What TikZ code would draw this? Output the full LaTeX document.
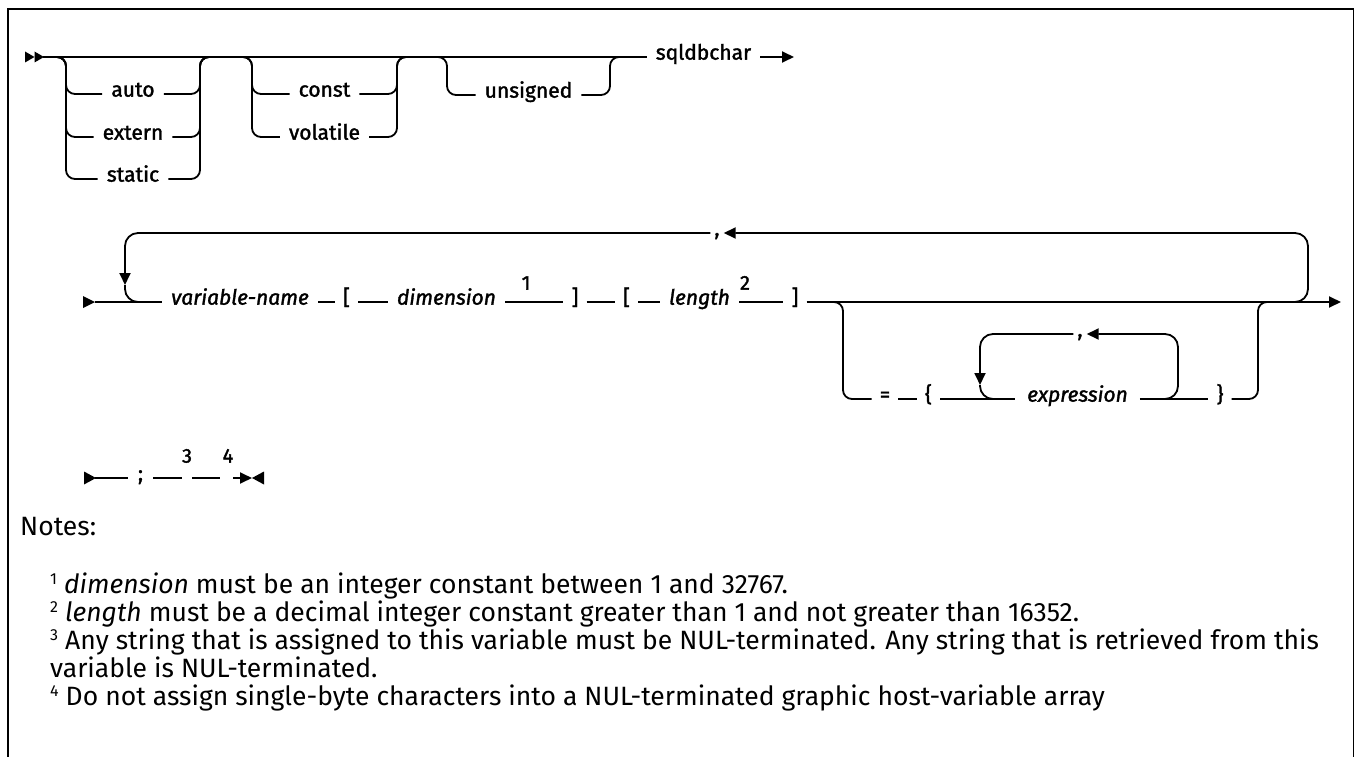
\documentclass[tikz,border=0pt]{standalone}
\usepackage{fontspec}
\setmainfont{Fira Sans}
\newfontfamily\diagfont{Fira Sans}[FakeBold=1.6]
\newcommand{\notesup}[1]{\raisebox{0.62ex}{\fontsize{16}{16}\selectfont #1}}
\usetikzlibrary{arrows.meta}
\begin{document}
\begin{tikzpicture}[x=1pt,y=-1pt,
  rr/.style={line width=1.8pt, line join=round},
  arr/.style={-{Triangle[length=12pt,width=11pt]}},
  lbl/.style={font=\diagfont\fontsize{21}{25}\selectfont, inner xsep=9pt, inner ysep=0pt, anchor=mid},
  ilbl/.style={lbl, font=\diagfont\itshape\fontsize{21}{25}\selectfont},
  punct/.style={lbl, inner xsep=4pt},
  supnum/.style={font=\diagfont\fontsize{20}{22}\selectfont, inner sep=0pt, anchor=mid},
  note/.style={font=\fontsize{26.5}{30}\selectfont, inner sep=0pt, anchor=mid west},
  rc/.style={rounded corners=9pt},
  rcl/.style={rounded corners=13pt}
]
\useasboundingbox (0,0) rectangle (1355,757);
% frame
\draw[line width=2.4pt] (8,757) -- (8,9) -- (1354,9);
\draw[line width=1pt] (1353,9) -- (1353,757);

% ---------- row 1 ----------
\fill (25,51.5) -- (34.5,57) -- (25,62.5) -- cycle;
\fill (34.5,51.5) -- (44,57) -- (34.5,62.5) -- cycle;
\coordinate (s1) at (43,57);
\node[lbl] (sq) at (703.5,57) {sqldbchar};
\coordinate (e1) at (794,57);
\draw[rr] (s1) -- (sq.mid west);
\draw[rr,arr] (sq.mid east) -- (e1);

% group 1
\coordinate (g1l) at (57,57); \coordinate (g1a) at (66,57);
\coordinate (g1b) at (200,57); \coordinate (g1r) at (209,57);
\node[lbl] (auto) at (133,94) {auto};
\node[lbl] (extern) at (133,137) {extern};
\node[lbl] (static) at (133,179) {static};
\foreach \n in {auto,extern,static}{
  \draw[rr,rc] (g1l) -| (g1a |- \n.mid west) -- (\n.mid west);
  \draw[rr,rc] (\n.mid east) -| (g1b) -- (g1r);
}
% group 2
\coordinate (g2l) at (243,57); \coordinate (g2a) at (252,57);
\coordinate (g2b) at (397,57); \coordinate (g2r) at (406,57);
\node[lbl] (const) at (324.5,94) {const};
\node[lbl] (volatile) at (324.5,137) {volatile};
\foreach \n in {const,volatile}{
  \draw[rr,rc] (g2l) -| (g2a |- \n.mid west) -- (\n.mid west);
  \draw[rr,rc] (\n.mid east) -| (g2b) -- (g2r);
}
% group 3
\coordinate (g3l) at (438,57); \coordinate (g3a) at (447,57);
\coordinate (g3b) at (610,57); \coordinate (g3r) at (619,57);
\node[lbl] (unsigned) at (528.5,95) {unsigned};
\draw[rr,rc] (g3l) -| (g3a |- unsigned.mid west) -- (unsigned.mid west);
\draw[rr,rc] (unsigned.mid east) -| (g3b) -- (g3r);

% ---------- row 2 ----------
\fill (83,296) -- (95,302) -- (83,308) -- cycle;
\coordinate (s2) at (95,302);
\node[ilbl] (vn) at (240,302) {variable-name};
\node[lbl,inner xsep=8pt] (lb1) at (346.5,302) {[};
\node[ilbl] (dim) at (446.5,302) {dimension};
\node[supnum] (sup1) at (526,287) {1};
\node[lbl,inner xsep=8pt] (rb1) at (575,302) {]};
\node[lbl,inner xsep=8pt] (lb2) at (626.5,302) {[};
\node[ilbl] (len) at (699.5,302) {length};
\node[supnum] (sup2) at (745,287) {2};
\node[lbl,inner xsep=8pt] (rb2) at (795,302) {]};
\coordinate (e2) at (1341,302);
\draw[rr] (s2) -- (vn.mid west);
\draw[rr] (vn.mid east) -- (lb1.mid west);
\draw[rr] (lb1.mid east) -- (dim.mid west);
\draw[rr] (dim.mid east) -- (rb1.mid west);
\draw[rr] (rb1.mid east) -- (lb2.mid west);
\draw[rr] (lb2.mid east) -- (len.mid west);
\draw[rr] (len.mid east) -- (rb2.mid west);
\draw[rr,arr] (rb2.mid east) -- (e2);

% repeat loop
\node[punct] (c1) at (717,233) {,};
\coordinate (rj) at (1292,302); \coordinate (rtr) at (1308,233);
\coordinate (la) at (125,285); \coordinate (lj) at (150,302);
\draw[rr,rcl,arr] (rj) -| (rtr) -- (c1.mid east);
\draw[rr,rcl,arr] (c1.mid west) -| (la);
\draw[rr,rcl] (la) |- (lj);

% optional branch
\coordinate (oj1) at (831,302); \coordinate (ov1) at (843,302);
\coordinate (ov2) at (1258,302); \coordinate (oj2) at (1270,302);
\node[lbl,inner xsep=8pt] (eq) at (885,399) {=};
\node[lbl,inner xsep=8pt] (lbr) at (928.5,399) {\{};
\node[ilbl,inner xsep=12pt] (expr) at (1077.5,399) {expression};
\node[lbl,inner xsep=8pt] (rbr) at (1220,399) {\}};
\draw[rr,rc] (oj1) -| (ov1 |- eq.mid west) -- (eq.mid west);
\draw[rr] (eq.mid east) -- (lbr.mid west);
\draw[rr] (lbr.mid east) -- (expr.mid west);
\draw[rr] (expr.mid east) -- (rbr.mid west);
\draw[rr,rc] (rbr.mid east) -| (ov2) -- (oj2);

% inner loop
\node[punct] (c2) at (1080,334) {,};
\coordinate (ij) at (1163,399); \coordinate (itr) at (1178,334);
\coordinate (ila) at (980,385); \coordinate (ilj) at (997,399);
\draw[rr,rcl,arr] (ij) -| (itr) -- (c2.mid east);
\draw[rr,rcl,arr] (c2.mid west) -| (ila);
\draw[rr,rcl] (ila) |- (ilj);

% ---------- row 3 ----------
\fill (84,471.5) -- (96,478) -- (84,484.5) -- cycle;
\coordinate (s3) at (95,478);
\node[lbl,inner xsep=10pt] (semi) at (140.5,478) {;};
\node[supnum] (sup3) at (187,460) {3};
\node[supnum] (sup4) at (228,460) {4};
\coordinate (l3a) at (182,478); \coordinate (l3b) at (192,478);
\coordinate (l3c) at (220,478); \coordinate (l3d) at (233,478);
\coordinate (l3e) at (252,478);
\draw[rr] (s3) -- (semi.mid west);
\draw[rr] (semi.mid east) -- (l3a);
\draw[rr] (l3b) -- (l3c);
\draw[rr,arr] (l3d) -- (l3e);
\fill (264,471.5) -- (l3e) -- (264,484.5) -- cycle;

% ---------- notes ----------
\node[note] (notes) at (20,533) {Notes:};
\node[note] (n1) at (50,591) {\notesup{1} \textit{dimension} must be an integer constant between 1 and 32767.};
\node[note] (n2) at (50,619) {\notesup{2} \textit{length} must be a decimal integer constant greater than 1 and not greater than 16352.};
\node[note] (n3) at (50,647) {\notesup{3} Any string that is assigned to this variable must be NUL-terminated. Any string that is retrieved from this};
\node[note] (n3b) at (50,675) {variable is NUL-terminated.};
\node[note] (n4) at (50,703) {\notesup{4} Do not assign single-byte characters into a NUL-terminated graphic host-variable array};
\end{tikzpicture}
\end{document}
